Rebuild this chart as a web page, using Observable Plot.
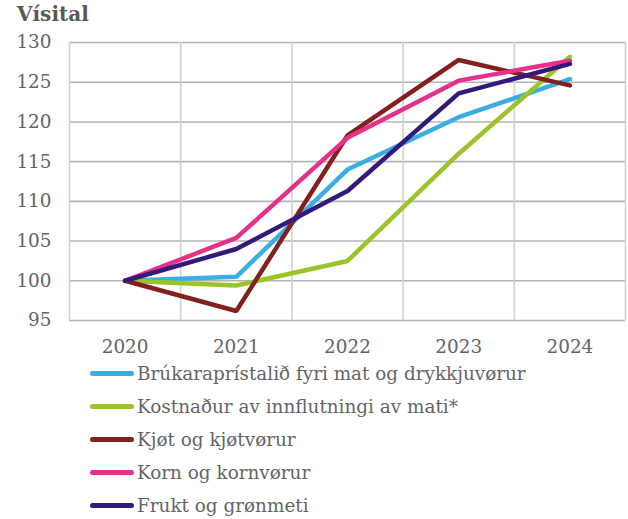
<!DOCTYPE html>
<html><head><meta charset="utf-8">
<script src="https://cdn.jsdelivr.net/npm/d3@7"></script>
<script src="https://cdn.jsdelivr.net/npm/@observablehq/plot@0.6"></script>
<style>
body{margin:0;background:#fff;font-family:"DejaVu Serif",serif;color:#646464;width:628px;height:519px;overflow:hidden;position:relative;}
#title{position:absolute;left:17px;top:2px;font-weight:bold;font-size:20px;color:#595959;}
#chart{position:absolute;left:0;top:0;}
#legend{position:absolute;left:90px;top:357px;}
.row{height:33px;display:flex;align-items:center;font-size:18.4px;white-space:nowrap;}
.sw{width:44px;height:5px;border-radius:3px;margin-right:3px;flex:none;}
</style></head><body>
<div id="chart"></div>
<div id="title">Vísital</div>
<div id="legend"></div>
<script>
const years = [2020, 2021, 2022, 2023, 2024];
const seriesNames = [
  "Brúkaraprístalið fyri mat og drykkjuvørur",
  "Kostnaður av innflutningi av mati*",
  "Kjøt og kjøtvørur",
  "Korn og kornvørur",
  "Frukt og grønmeti"
];
const brukara = [100, 100.5, 114.0, 120.6, 125.4];
const kostnadur = [100, 99.4, 102.5, 116.0, 128.2];
const kjot = [100, 96.2, 118.3, 127.8, 124.6];
const korn = [100, 105.4, 118.0, 125.2, 127.7];
const frukt = [100, 104.0, 111.3, 123.6, 127.3];
const colors = ["#3aaee2", "#9bc42a", "#82201e", "#e6318b", "#34197a"];
const yTicks = [95, 100, 105, 110, 115, 120, 125, 130];

const allValues = [brukara, kostnadur, kjot, korn, frukt];
const data = [];
seriesNames.forEach((s, i) => years.forEach((yr, j) => data.push({series: s, year: yr, value: allValues[i][j]})));
const bounds = years.map(y => y - 0.5).concat([years[years.length - 1] + 0.5]);

const plot = Plot.plot({
  width: 628,
  height: 357,
  marginTop: 42,
  marginBottom: 37,
  marginLeft: 69,
  marginRight: 3,
  style: {fontFamily: "DejaVu Serif, serif", fontSize: "18.4px", color: "#646464", background: "transparent"},
  x: {domain: [bounds[0], bounds[bounds.length - 1]], ticks: years, tickFormat: d => String(d), tickSize: 0, tickPadding: 19, label: null},
  y: {domain: [95, 130], ticks: yTicks, tickSize: 0, tickPadding: 18, label: null},
  color: {domain: seriesNames, range: colors},
  marks: [
    Plot.ruleY(yTicks, {stroke: "#b4b4b4", strokeWidth: 1.6}),
    Plot.ruleX(bounds, {stroke: "#d2d2d2", strokeWidth: 1.6}),
    Plot.axisX({ticks: years, tickFormat: d => String(d), tickSize: 0, tickPadding: 19, fill: "#646464"}),
    Plot.axisY({ticks: yTicks, tickSize: 0, tickPadding: 18, fill: "#646464"}),
    Plot.line(data, {x: "year", y: "value", z: "series", stroke: "series", strokeWidth: 4.5, strokeLinejoin: "miter", strokeLinecap: "round"})
  ]
});
document.getElementById("chart").appendChild(plot);

const legend = document.getElementById("legend");
seriesNames.forEach((s, i) => {
  const row = document.createElement("div");
  row.className = "row";
  const sw = document.createElement("div");
  sw.className = "sw";
  sw.style.background = colors[i];
  const t = document.createElement("span");
  t.textContent = s;
  row.appendChild(sw);
  row.appendChild(t);
  legend.appendChild(row);
});
</script>
</body></html>
